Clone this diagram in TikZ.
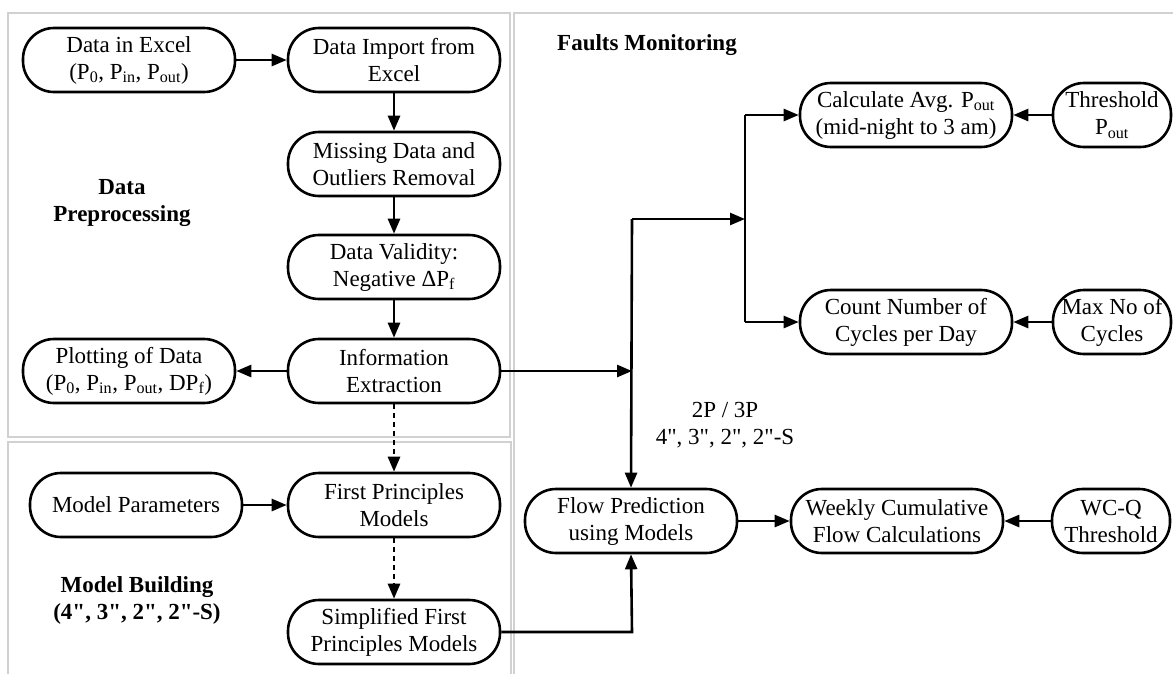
\documentclass[tikz,border=0pt]{standalone}
\usepackage{fontspec}
\setmainfont{Liberation Serif}[Ligatures=TeXOff]
\usetikzlibrary{arrows.meta}
\begin{document}
\begin{tikzpicture}[x=1pt,y=-1pt,
  box/.style={draw, line width=2.6pt, rounded corners=31pt, minimum height=64pt,
    align=center, inner sep=0pt, font=\fontsize{23}{27}\selectfont},
  wide/.style={box, minimum width=212pt},
  narrow/.style={box, minimum width=118pt},
  lbl/.style={align=center, inner sep=0pt, font=\fontsize{23}{27}\selectfont},
  blbl/.style={lbl, font=\fontsize{23}{27}\selectfont\bfseries},
  conn/.style={line width=2.6pt, -{Triangle[length=15pt,width=12pt]}},
  line/.style={line width=2.6pt},
  dconn/.style={conn, dash pattern=on 5pt off 4pt},
  panel/.style={draw=black!18, line width=1.2pt}]
\useasboundingbox (0,0) rectangle (1173,673);
\clip (0,0) rectangle (1173,673);
\fill[white] (0,0) rectangle (1173,673);
% panels
\draw[panel] (8,13) rectangle (510,437);
\draw[panel] (8,690) -- (8,442) -- (511,442) -- (511,690);
\draw[panel] (1190,13) -- (514,13) -- (514,690);
% labels
\node[blbl] (lpre) at (122,203) {Data\\Preprocessing};
\node[blbl] (lmod) at (137,600) {Model Building\\(4", 3", 2", 2"-S)};
\node[blbl] (lfault) at (647,45) {Faults Monitoring};
\node[lbl] (lsize) at (725,425) {2P / 3P\\4", 3", 2", 2"-S};
% nodes
\node[wide] (excel) at (129,60) {Data in Excel\\(P\textsubscript{0}, P\textsubscript{in}, P\textsubscript{out})};
\node[wide] (import) at (394,60) {Data Import from\\Excel};
\node[wide] (missing) at (394,164) {Missing Data and\\Outliers Removal};
\node[wide] (valid) at (394,267) {Data Validity:\\Negative ΔP\textsubscript{f}};
\node[wide] (info) at (394,371) {Information\\Extraction};
\node[wide] (plot) at (129,371) {Plotting of Data\\(P\textsubscript{0}, P\textsubscript{in}, P\textsubscript{out}, DP\textsubscript{f})};
\node[wide] (fpm) at (394,505) {First Principles\\Models};
\node[wide] (params) at (136,505) {Model Parameters};
\node[wide] (sfpm) at (394,632) {Simplified First\\Principles Models};
\node[wide] (calc) at (906,115) {Calculate Avg. P\textsubscript{out}\\(mid-night to 3 am)};
\node[narrow] (thr) at (1112,115) {Threshold\\P\textsubscript{out}};
\node[wide] (count) at (906,322) {Count Number of\\Cycles per Day};
\node[narrow] (maxno) at (1112,322) {Max No of\\Cycles};
\node[wide] (flow) at (631,521) {Flow Prediction\\using Models};
\node[wide] (weekly) at (897,521) {Weekly Cumulative\\Flow Calculations};
\node[narrow] (wcq) at (1111,521) {WC-Q\\Threshold};
% junctions
\coordinate (j1) at (632,371);
\coordinate (j2) at (632,219);
\coordinate (j3) at (745,219);
\coordinate (j4) at (745,115);
\coordinate (j5) at (745,322);
\coordinate (j6) at (632,632);
% connectors
\draw[conn] (excel) -- (import);
\draw[conn] (import) -- (missing);
\draw[conn] (missing) -- (valid);
\draw[conn] (valid) -- (info);
\draw[conn] (info) -- (plot);
\draw[dconn] (info) -- (fpm);
\draw[dconn] (fpm) -- (sfpm);
\draw[conn] (params) -- (fpm);
\draw[conn] (info.east) -- (j1);
\draw[conn] (j2) -- (flow.north);
\draw[conn] (j2) -- (j3);
\draw[line] (j4) -- (j5);
\draw[conn] (j4) -- (calc.west);
\draw[conn] (j5) -- (count.west);
\draw[conn] (sfpm.east) -- (j6) -- (flow.south);
\draw[conn] (flow) -- (weekly);
\draw[conn] (wcq) -- (weekly);
\draw[conn] (thr) -- (calc);
\draw[conn] (maxno) -- (count);
\end{tikzpicture}
\end{document}
